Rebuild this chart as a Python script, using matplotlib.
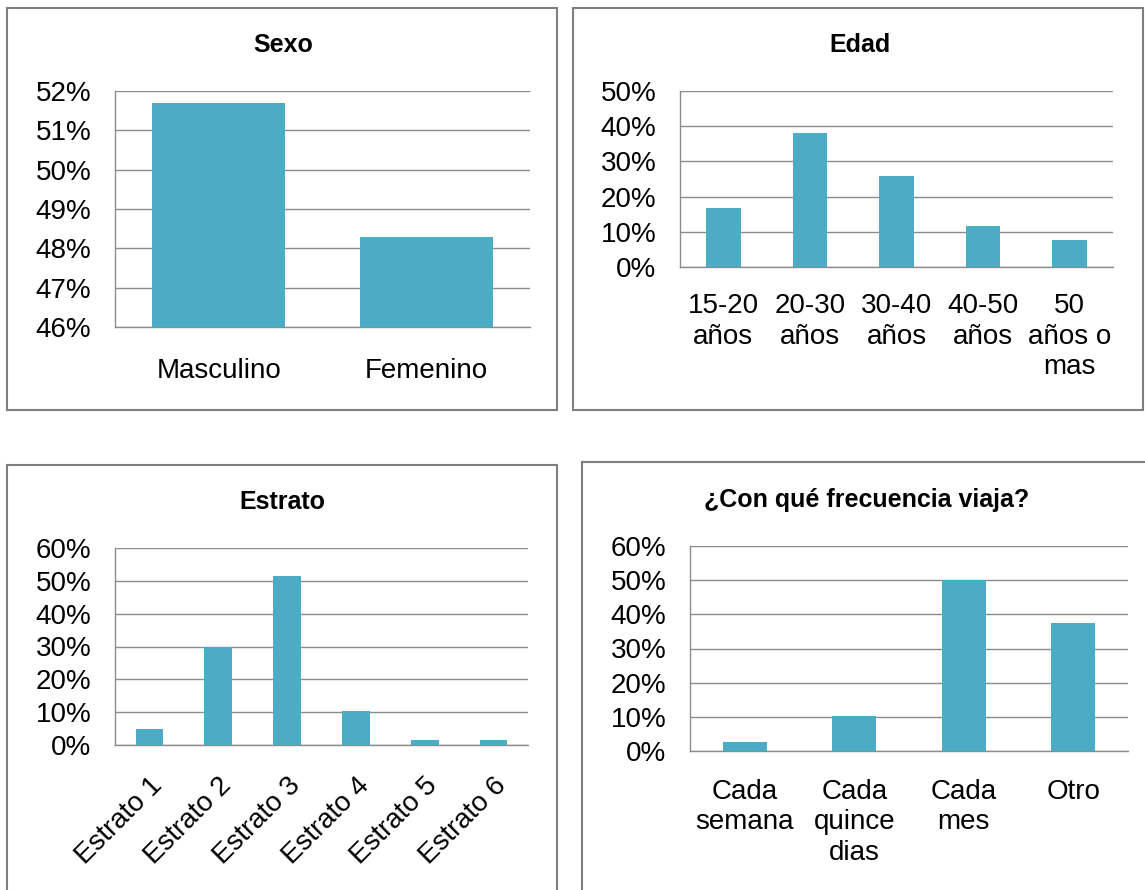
import matplotlib.pyplot as plt
from matplotlib.patches import Rectangle
from matplotlib.ticker import PercentFormatter, MultipleLocator

plt.rcParams['font.family'] = ['Liberation Sans', 'DejaVu Sans']

# Data (percent)
sexo_labels = ['Masculino', 'Femenino']
sexo_vals = [51.7, 48.3]

edad_labels = ['15-20\naños', '20-30\naños', '30-40\naños', '40-50\naños', '50\naños o\nmas']
edad_vals = [16.7, 38.2, 25.9, 11.6, 7.6]

estrato_labels = ['Estrato 1', 'Estrato 2', 'Estrato 3', 'Estrato 4', 'Estrato 5', 'Estrato 6']
estrato_vals = [4.8, 29.9, 51.6, 10.3, 1.6, 1.6]

frec_labels = ['Cada\nsemana', 'Cada\nquince\ndias', 'Cada\nmes', 'Otro']
frec_vals = [2.5, 10.1, 50.0, 37.4]

BAR = '#4BACC6'
GRID = '#8C8C8C'
W, H = 1145, 890
FS = 20
TFS = 18

fig = plt.figure(figsize=(W / 100, H / 100), dpi=100)


def px_axes(x0, y0, x1, y1):
    # pixel box (top-left origin) -> figure axes
    return fig.add_axes([x0 / W, 1 - y1 / H, (x1 - x0) / W, (y1 - y0) / H])


def frame(x0, y0, x1, y1):
    fig.patches.append(Rectangle((x0 / W, 1 - y1 / H), (x1 - x0) / W, (y1 - y0) / H,
                                 transform=fig.transFigure, fill=False,
                                 edgecolor='#7F7F7F', lw=1.5))


def bar_chart(ax, labels, vals, width, ylim, step, xpad, **tick_kw):
    ax.bar(range(len(vals)), vals, width=width, color=BAR, zorder=3)
    ax.set_xlim(-0.5, len(vals) - 0.5)
    ax.set_ylim(*ylim)
    ax.yaxis.set_major_locator(MultipleLocator(step))
    ax.yaxis.set_major_formatter(PercentFormatter(decimals=0))
    ax.set_xticks(range(len(vals)))
    ax.set_xticklabels(labels, fontsize=FS, linespacing=1.22, **tick_kw)
    ax.tick_params(axis='y', labelsize=FS, length=0, pad=17)
    ax.tick_params(axis='x', length=0, pad=xpad)
    ax.grid(axis='y', color=GRID, lw=1, zorder=0)
    for s in ['top', 'right']:
        ax.spines[s].set_visible(False)
    for s in ['left', 'bottom']:
        ax.spines[s].set_color(GRID)
        ax.spines[s].set_linewidth(1)


# panel frames
frame(7, 8, 557, 410)
frame(573, 8, 1143, 410)
frame(7, 465, 557, 900)
frame(582, 462, 1150, 900)

ax1 = px_axes(115, 91, 530, 327)
bar_chart(ax1, sexo_labels, sexo_vals, 0.64, (46, 52), 1, 22)
fig.text(283 / W, 1 - 45 / H, 'Sexo', ha='center', va='center', fontsize=TFS, fontweight='bold')

ax2 = px_axes(680, 91, 1113, 267)
bar_chart(ax2, edad_labels, edad_vals, 0.4, (0, 50), 10, 19, va='top')
fig.text(860 / W, 1 - 45 / H, 'Edad', ha='center', va='center', fontsize=TFS, fontweight='bold')

ax3 = px_axes(115, 548, 528, 745)
bar_chart(ax3, estrato_labels, estrato_vals, 0.4, (0, 60), 10, 20,
          rotation=45, ha='right', rotation_mode='anchor')
fig.text(282 / W, 1 - 502 / H, 'Estrato', ha='center', va='center', fontsize=TFS, fontweight='bold')

ax4 = px_axes(690, 546, 1128, 751)
bar_chart(ax4, frec_labels, frec_vals, 0.4, (0, 60), 10, 20, va='top')
fig.text(867 / W, 1 - 500 / H, '¿Con qué frecuencia viaja?', ha='center', va='center',
         fontsize=TFS, fontweight='bold')

fig.savefig('out.png', dpi=100)
